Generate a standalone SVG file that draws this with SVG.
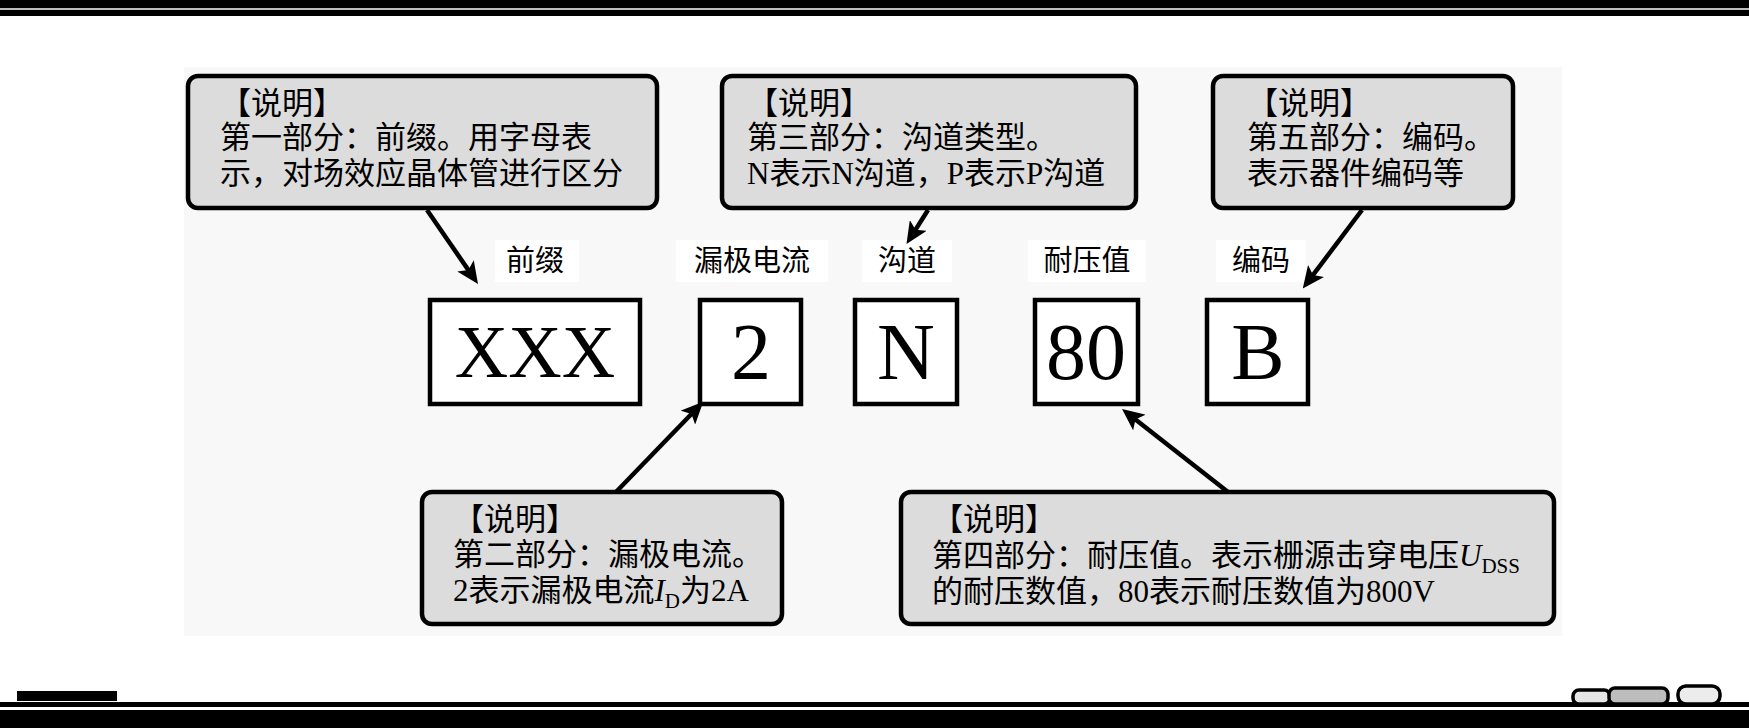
<svg xmlns="http://www.w3.org/2000/svg" width="1749" height="728" viewBox="0 0 1749 728">
<style>
.note{fill:#dcdcdc;stroke:#000;stroke-width:4.5}
.code{fill:#fff;stroke:#000;stroke-width:4.5}
.t{font-family:"Liberation Serif","Noto Sans CJK SC",serif;font-size:31px;fill:#000}
.big{font-family:"Liberation Serif",serif;font-size:80px;fill:#000;text-anchor:middle}
.lbl{font-family:"Liberation Serif","Noto Sans CJK SC",serif;font-size:29px;fill:#000;text-anchor:middle}
.sub{font-size:21px}
.conn{stroke:#000;stroke-width:4.5;fill:none;marker-end:url(#ah)}
</style>
<defs>
<marker id="ah" markerUnits="userSpaceOnUse" viewBox="0 0 22 20" refX="13" refY="10" markerWidth="22" markerHeight="20" orient="auto">
<path d="M0,0 L22,10 L0,20 L5,10 z" fill="#000"/>
</marker>
</defs>
<rect x="0" y="0" width="1749" height="728" fill="#fff"/>
<g id="frame">
<rect x="0" y="0" width="1749" height="8" fill="#000"/>
<rect x="0" y="8" width="1749" height="2" fill="#bbb"/>
<rect x="0" y="10" width="1749" height="6" fill="#000"/>
<rect x="184" y="67" width="1378" height="569" fill="#f8f8f8"/>
<rect x="17" y="691" width="100" height="10" fill="#000"/>
<rect x="0" y="702" width="1749" height="5" fill="#000"/>
<rect x="0" y="710" width="1749" height="18" fill="#000"/>
<rect x="1573" y="690" width="37" height="14" rx="6" fill="#e6e6e6" stroke="#000" stroke-width="3.5"/>
<rect x="1609" y="688" width="59" height="16" rx="6" fill="#bdbdbd" stroke="#000" stroke-width="3.5"/>
<rect x="1678" y="686" width="42" height="18" rx="8" fill="#ececec" stroke="#000" stroke-width="3.5"/>
</g>
<g id="labels">
<rect x="495" y="240" width="84" height="42" fill="#fff"/>
<rect x="676" y="240" width="152" height="42" fill="#fff"/>
<rect x="862" y="240" width="90" height="42" fill="#fff"/>
<rect x="1028" y="240" width="118" height="42" fill="#fff"/>
<rect x="1216" y="240" width="90" height="42" fill="#fff"/>
<text class="lbl" x="535" y="271">前缀</text>
<text class="lbl" x="752" y="271">漏极电流</text>
<text class="lbl" x="907" y="271">沟道</text>
<text class="lbl" x="1087" y="271">耐压值</text>
<text class="lbl" x="1261" y="271">编码</text>
</g>
<g id="box-xxx"><rect class="code" x="430" y="300" width="210" height="104"/><text class="big" x="535" y="377" style="font-size:74px">XXX</text></g>
<g id="box-2"><rect class="code" x="700" y="300" width="101" height="104"/><text class="big" x="751" y="379">2</text></g>
<g id="box-n"><rect class="code" x="855" y="300" width="102" height="104"/><text class="big" x="906" y="379">N</text></g>
<g id="box-80"><rect class="code" x="1035" y="300" width="103" height="104"/><text class="big" x="1086" y="379">80</text></g>
<g id="box-b"><rect class="code" x="1207" y="300" width="101" height="104"/><text class="big" x="1258" y="379">B</text></g>
<g id="note1">
<rect class="note" x="188" y="76" width="469" height="132" rx="10"/>
<text class="t" x="220" y="114">【说明】</text>
<text class="t" x="220" y="148">第一部分：前缀。用字母表</text>
<text class="t" x="220" y="184">示，对场效应晶体管进行区分</text>
</g>
<g id="note3">
<rect class="note" x="722" y="76" width="414" height="132" rx="10"/>
<text class="t" x="747" y="114">【说明】</text>
<text class="t" x="747" y="148">第三部分：沟道类型。</text>
<text class="t" x="747" y="184">N表示N沟道，P表示P沟道</text>
</g>
<g id="note5">
<rect class="note" x="1213" y="76" width="300" height="132" rx="10"/>
<text class="t" x="1247" y="114">【说明】</text>
<text class="t" x="1247" y="148">第五部分：编码。</text>
<text class="t" x="1247" y="184">表示器件编码等</text>
</g>
<g id="note2">
<rect class="note" x="422" y="492" width="360" height="132" rx="10"/>
<text class="t" x="453" y="530">【说明】</text>
<text class="t" x="453" y="565">第二部分：漏极电流。</text>
<text class="t" x="453" y="601">2表示漏极电流<tspan font-style="italic">I</tspan><tspan class="sub" dy="7">D</tspan><tspan dy="-7">为2A</tspan></text>
</g>
<g id="note4">
<rect class="note" x="901" y="492" width="653" height="132" rx="10"/>
<text class="t" x="932" y="530">【说明】</text>
<text class="t" x="932" y="566">第四部分：耐压值。表示栅源击穿电压<tspan font-style="italic">U</tspan><tspan class="sub" dy="7">DSS</tspan></text>
<text class="t" x="932" y="602">的耐压数值，80表示耐压数值为800V</text>
</g>
<g id="connectors">
<path class="conn" d="M427,210 L472.9,276.6"/>
<path class="conn" d="M928,210 L911.3,236.4"/>
<path class="conn" d="M1362,210 L1308.2,281.4"/>
<path class="conn" d="M616,492 L697,408.3"/>
<path class="conn" d="M1228,492 L1129.1,414.5"/>
</g>
</svg>
